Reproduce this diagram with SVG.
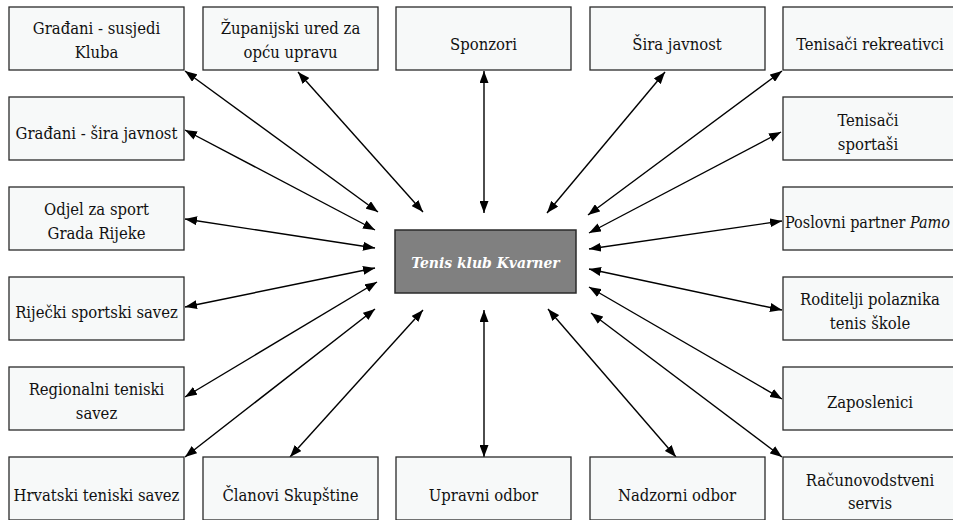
<svg xmlns="http://www.w3.org/2000/svg" width="953" height="520" viewBox="0 0 953 520">
<style>
.box{fill:#f7f9f9;stroke:#2a2a2a;stroke-width:1.3}
.hub{fill:#808080;stroke:#2a2a2a;stroke-width:1.5}
text{font-family:"DejaVu Serif Condensed","DejaVu Serif",serif;font-stretch:condensed;font-size:16.5px;fill:#111;text-anchor:middle}
.ht{fill:#fff;font-weight:bold;font-style:italic;font-size:15.5px}
.c line{stroke:#000;stroke-width:1.4;marker-start:url(#ah);marker-end:url(#ah)}
</style>
<defs>
<marker id="ah" viewBox="0 0 12 9" refX="12" refY="4.5" markerWidth="12" markerHeight="9" markerUnits="userSpaceOnUse" orient="auto-start-reverse">
<path d="M0,0 L12,4.5 L0,9 z" fill="#000"/>
</marker>
</defs>
<rect width="953" height="520" fill="#fff"/>
<g class="c" id="connectors">
<line x1="185" y1="71" x2="378" y2="212"/>
<line x1="298" y1="72" x2="423" y2="212"/>
<line x1="484" y1="71" x2="484" y2="213"/>
<line x1="665" y1="72" x2="547" y2="213"/>
<line x1="782" y1="71" x2="588" y2="215"/>
<line x1="781" y1="132" x2="589" y2="233"/>
<line x1="782" y1="221" x2="589" y2="249"/>
<line x1="782" y1="310" x2="589" y2="269"/>
<line x1="782" y1="399" x2="589" y2="287"/>
<line x1="782" y1="457" x2="591" y2="313"/>
<line x1="676" y1="457" x2="548" y2="309"/>
<line x1="484" y1="457" x2="484" y2="310"/>
<line x1="290" y1="457" x2="423" y2="310"/>
<line x1="185" y1="457" x2="375" y2="309"/>
<line x1="185" y1="397" x2="377" y2="282"/>
<line x1="185" y1="307" x2="375" y2="268"/>
<line x1="185" y1="219" x2="375" y2="248"/>
<line x1="185" y1="130" x2="375" y2="230"/>
</g>
<g id="hub"><rect class="hub" x="395" y="230" width="181" height="63"/><text class="ht" x="485.5" y="268">Tenis klub Kvarner</text></g>
<g id="n1"><rect class="box" x="9" y="7" width="175" height="63"/><text x="96.5" y="34">Građani - susjedi</text><text x="96.5" y="58">Kluba</text></g>
<g id="n2"><rect class="box" x="203" y="7" width="175" height="63"/><text x="290.5" y="34">Županijski ured za</text><text x="290.5" y="58">opću upravu</text></g>
<g id="n3"><rect class="box" x="396" y="7" width="175" height="63"/><text x="483.5" y="50">Sponzori</text></g>
<g id="n4"><rect class="box" x="590" y="7" width="175" height="63"/><text x="677" y="50">Šira javnost</text></g>
<g id="n5"><rect class="box" x="783" y="7" width="175" height="63"/><text x="870" y="50">Tenisači rekreativci</text></g>
<g id="n6"><rect class="box" x="9" y="97" width="175" height="63"/><text x="96.5" y="139">Građani - šira javnost</text></g>
<g id="n7"><rect class="box" x="783" y="97" width="175" height="63"/><text x="868" y="126">Tenisači</text><text x="868" y="150">sportaši</text></g>
<g id="n8"><rect class="box" x="9" y="187" width="175" height="63"/><text x="96.5" y="215">Odjel za sport</text><text x="96.5" y="239">Grada Rijeke</text></g>
<g id="n9"><rect class="box" x="783" y="187" width="175" height="63"/><text x="785" y="228" style="text-anchor:start" textLength="165" lengthAdjust="spacingAndGlyphs">Poslovni partner <tspan font-style="italic">Pamo</tspan></text></g>
<g id="n10"><rect class="box" x="9" y="277" width="175" height="63"/><text x="96.5" y="318">Riječki sportski savez</text></g>
<g id="n11"><rect class="box" x="783" y="277" width="175" height="63"/><text x="870" y="305">Roditelji polaznika</text><text x="870" y="329">tenis škole</text></g>
<g id="n12"><rect class="box" x="9" y="367" width="175" height="63"/><text x="96.5" y="395">Regionalni teniski</text><text x="96.5" y="419">savez</text></g>
<g id="n13"><rect class="box" x="783" y="367" width="175" height="63"/><text x="870" y="408">Zaposlenici</text></g>
<g id="n14"><rect class="box" x="9" y="457" width="175" height="63"/><text x="96.5" y="501">Hrvatski teniski savez</text></g>
<g id="n15"><rect class="box" x="203" y="457" width="175" height="63"/><text x="290.5" y="501">Članovi Skupštine</text></g>
<g id="n16"><rect class="box" x="396" y="457" width="175" height="63"/><text x="483.5" y="501">Upravni odbor</text></g>
<g id="n17"><rect class="box" x="590" y="457" width="175" height="63"/><text x="677" y="501">Nadzorni odbor</text></g>
<g id="n18"><rect class="box" x="783" y="457" width="175" height="63"/><text x="870" y="486">Računovodstveni</text><text x="870" y="509">servis</text></g>
</svg>
